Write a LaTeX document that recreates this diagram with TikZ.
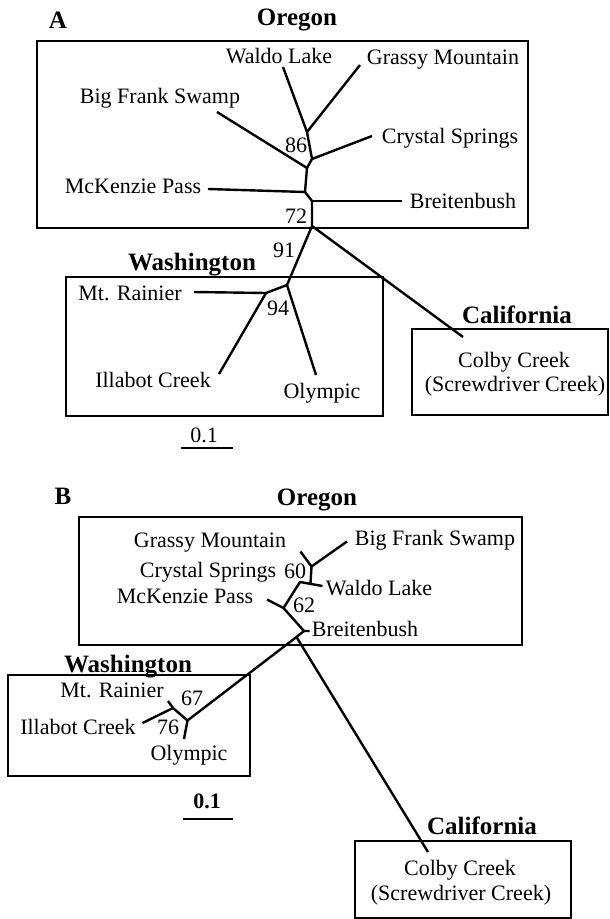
\documentclass[tikz,border=0pt]{standalone}
\usepackage{fontspec}
\setmainfont{Liberation Serif}
\usepackage{tikz}
\usetikzlibrary{arrows}

\begin{document}
\begin{tikzpicture}[x=1pt,y=-1pt]
        \tikzstyle{every node}+=[inner sep=0pt]
        \tikzstyle{lbl}=[anchor=base,font=\fontsize{22}{26}\selectfont]
        \tikzstyle{region}=[anchor=base,font=\fontsize{25}{30}\selectfont\bfseries]
        \tikzstyle{branch}=[black,line width=2.4pt,line join=round]
        \tikzstyle{frame}=[black,line width=1.5pt]
        \useasboundingbox (0,0) rectangle (610,919);
        % panel A
        \draw (58,28) node [region] (panelA) {A};
        \draw [frame] (37,41) rectangle (528,228);
        \draw [frame] (66,277) rectangle (383,416);
        \draw [frame] (412,329) rectangle (608,415);
        \draw (297,25) node [region] (orA) {Oregon};
        \draw (192,270) node [region] (waA) {Washington};
        \draw (517,323) node [region] (caA) {California};
        \coordinate (an1) at (307,132);
        \coordinate (an2) at (312,159);
        \coordinate (an3) at (307,168);
        \coordinate (an4) at (305,192);
        \coordinate (an5) at (312,201);
        \coordinate (an6) at (312,226);
        \coordinate (an7) at (287,285);
        \coordinate (an8) at (266,293);
        \coordinate (aWaldo) at (283,67);
        \coordinate (aGrassy) at (360,65);
        \coordinate (aCrystal) at (372,136);
        \coordinate (aBigFrank) at (217,112);
        \coordinate (aMcKenzie) at (208,189);
        \coordinate (aBreiten) at (402,201);
        \coordinate (aRainier) at (194,292);
        \coordinate (aIllabot) at (219,374);
        \coordinate (aOlympic) at (316,375);
        \coordinate (aColby) at (463,337);
        \draw [branch] (aWaldo) -- (an1) -- (an2) -- (an3) -- (an4) -- (an5) -- (an6) -- (an7) -- (an8) -- (aRainier);
        \draw [branch] (aGrassy) -- (an1);
        \draw [branch] (aCrystal) -- (an2);
        \draw [branch] (aBigFrank) -- (an3);
        \draw [branch] (aMcKenzie) -- (an4);
        \draw [branch] (aBreiten) -- (an5);
        \draw [branch] (an6) -- (aColby);
        \draw [branch] (an7) -- (aOlympic);
        \draw [branch] (an8) -- (aIllabot);
        \draw (279,63) node [lbl] (lWaldoA) {Waldo Lake};
        \draw (443,64) node [lbl] (lGrassyA) {Grassy Mountain};
        \draw (160,103) node [lbl] (lBigFrankA) {Big Frank Swamp};
        \draw (450,143) node [lbl] (lCrystalA) {Crystal Springs};
        \draw (133,193) node [lbl] (lMcKenzieA) {McKenzie Pass};
        \draw (463,208) node [lbl] (lBreitenA) {Breitenbush};
        \draw (296,152) node [lbl] (bs86) {86};
        \draw (296,223) node [lbl] (bs72) {72};
        \draw (284,257) node [lbl] (bs91) {91};
        \draw (278,315) node [lbl] (bs94) {94};
        \draw (130,300) node [lbl] (lRainierA) {Mt. Rainier};
        \draw (153,387) node [lbl] (lIllabotA) {Illabot Creek};
        \draw (322,398) node [lbl] (lOlympicA) {Olympic};
        \draw (514,367) node [lbl] (lColbyA) {Colby Creek};
        \draw (515,391) node [lbl] (lScrewA) {(Screwdriver Creek)};
        \draw (204,442) node [lbl] (scaleA) {0.1};
        \coordinate (sa1) at (181,448);
        \coordinate (sa2) at (233,448);
        \draw [branch] (sa1) -- (sa2);
        % panel B
        \draw (63,504) node [region] (panelB) {B};
        \draw [frame] (79,517) rectangle (522,645);
        \draw [frame] (8,675) rectangle (250,776);
        \draw [frame] (355,841) rectangle (571,918);
        \draw (317,505) node [region] (orB) {Oregon};
        \draw (128,672) node [region] (waB) {Washington};
        \draw (482,834) node [region] (caB) {California};
        \coordinate (bm1) at (311.5,566.5);
        \coordinate (bm2) at (310.5,583.5);
        \coordinate (bp) at (300,582);
        \coordinate (bm3) at (283.5,608);
        \coordinate (bm4) at (304,631);
        \coordinate (bm5) at (296.5,637);
        \coordinate (bw1) at (187.5,720.5);
        \coordinate (bw2) at (173,708);
        \coordinate (bGrassy) at (300.5,551.5);
        \coordinate (bBigFrank) at (347,541.5);
        \coordinate (bWaldo) at (322.5,586);
        \coordinate (bMcKenzie) at (267,599.5);
        \coordinate (bBreiten) at (309.5,631);
        \coordinate (bRainier) at (168,701);
        \coordinate (bIllabot) at (142.5,723);
        \coordinate (bOlympic) at (184,739);
        \coordinate (bColby) at (428,852);
        \draw [branch] (bGrassy) -- (bm1) -- (bBigFrank);
        \draw [branch] (bm1) -- (bm2);
        \draw [branch] (bWaldo) -- (bp) -- (bm3) -- (bm4) -- (bBreiten);
        \draw [branch] (bMcKenzie) -- (bm3);
        \draw [branch] (bm4) -- (bm5) -- (bw1) -- (bOlympic);
        \draw [branch] (bm5) -- (bColby);
        \draw [branch] (bRainier) -- (bw2) -- (bw1);
        \draw [branch] (bIllabot) -- (bw2);
        \draw (210,547) node [lbl] (lGrassyB) {Grassy Mountain};
        \draw (435,545) node [lbl] (lBigFrankB) {Big Frank Swamp};
        \draw (208,577) node [lbl] (lCrystalB) {Crystal Springs};
        \draw (379,595) node [lbl] (lWaldoB) {Waldo Lake};
        \draw (185,603) node [lbl] (lMcKenzieB) {McKenzie Pass};
        \draw (365,636) node [lbl] (lBreitenB) {Breitenbush};
        \draw (295,578) node [lbl] (bs60) {60};
        \draw (304,612) node [lbl] (bs62) {62};
        \draw (192,705) node [lbl] (bs67) {67};
        \draw (168,734) node [lbl] (bs76) {76};
        \draw (112,697) node [lbl] (lRainierB) {Mt. Rainier};
        \draw (78,734) node [lbl] (lIllabotB) {Illabot Creek};
        \draw (189,760) node [lbl] (lOlympicB) {Olympic};
        \draw (460,875) node [lbl] (lColbyB) {Colby Creek};
        \draw (461,900) node [lbl] (lScrewB) {(Screwdriver Creek)};
        \draw (207,808) node [lbl,font=\fontsize{22}{26}\selectfont\bfseries] (scaleB) {0.1};
        \coordinate (sb1) at (183,819);
        \coordinate (sb2) at (233,819);
        \draw [branch] (sb1) -- (sb2);
\end{tikzpicture}
\end{document}
